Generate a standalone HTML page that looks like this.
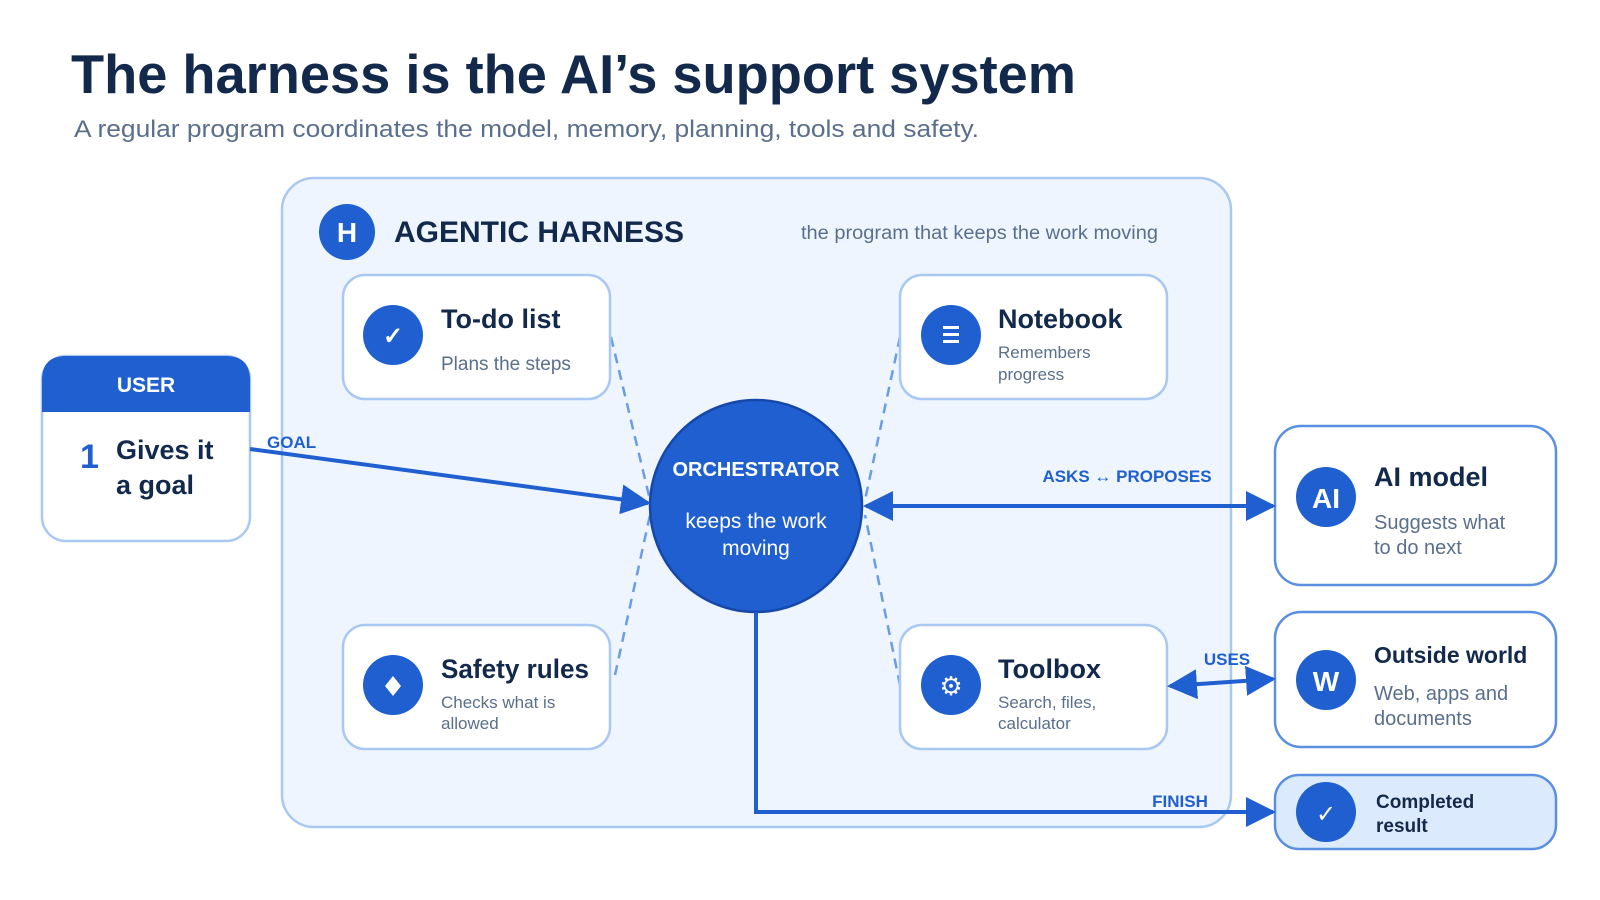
<!DOCTYPE html>
<html><head><meta charset="utf-8"><style>
html,body{margin:0;padding:0;background:#fff;}
svg{display:block;font-family:"Liberation Sans",Arial,sans-serif;}
</style></head><body>
<svg width="1600" height="900" viewBox="0 0 1600 900" xmlns="http://www.w3.org/2000/svg">
<defs>
<marker id="ah" viewBox="0 0 10 10" refX="9" refY="5" markerWidth="7.5" markerHeight="7.5" orient="auto-start-reverse" markerUnits="strokeWidth">
<path d="M0,0 L10,5 L0,10 z" fill="#1f5fd0"/></marker>
</defs>
<text x="71" y="93" font-size="55" font-weight="bold" fill="#13294b" textLength="1005" lengthAdjust="spacingAndGlyphs">The harness is the AI’s support system</text>
<text x="74" y="137" font-size="24" fill="#5a6f8c" textLength="905" lengthAdjust="spacingAndGlyphs">A regular program coordinates the model, memory, planning, tools and safety.</text>

<rect x="282" y="178" width="949" height="649" rx="32" fill="#eef5ff" stroke="#a9c8f2" stroke-width="2.5"/>
<circle cx="347" cy="232" r="28" fill="#1f5fd0"/>
<text x="347" y="242" font-size="28" font-weight="bold" fill="#fff" text-anchor="middle">H</text>
<text x="394" y="242" font-size="30" font-weight="bold" fill="#13294b" textLength="290" lengthAdjust="spacingAndGlyphs">AGENTIC HARNESS</text>
<text x="1158" y="239" font-size="19" fill="#5a6f8c" text-anchor="end" textLength="357" lengthAdjust="spacingAndGlyphs">the program that keeps the work moving</text>

<g stroke="#6a9de6" stroke-width="2.5" stroke-dasharray="10,7" fill="none">
<line x1="611" y1="337" x2="650" y2="500"/>
<line x1="615" y1="675" x2="650" y2="515"/>
<line x1="900" y1="337" x2="865" y2="500"/>
<line x1="900" y1="685" x2="865" y2="515"/>
</g>

<g stroke="#a9c8f2" stroke-width="2.5" fill="#fff">
<rect x="343" y="275" width="267" height="124" rx="22"/>
<rect x="900" y="275" width="267" height="124" rx="22"/>
<rect x="343" y="625" width="267" height="124" rx="22"/>
<rect x="900" y="625" width="267" height="124" rx="22"/>
</g>
<g fill="#1f5fd0">
<circle cx="393" cy="335" r="30"/><circle cx="951" cy="335" r="30"/>
<circle cx="393" cy="685" r="30"/><circle cx="951" cy="685" r="30"/>
</g>
<g fill="#fff" font-weight="bold" text-anchor="middle">
<text x="393" y="344" font-size="24">✓</text>
<rect x="943" y="326" width="16" height="3"/><rect x="943" y="333" width="16" height="3"/><rect x="943" y="340" width="16" height="3"/>
<path d="M393,676 L401,686 L393,696 L385,686 z"/>
<text x="951" y="695" font-size="26" font-family="DejaVu Sans">⚙</text>
</g>
<g fill="#13294b" font-weight="bold" font-size="27">
<text x="441" y="328">To-do list</text>
<text x="998" y="328">Notebook</text>
<text x="441" y="678" textLength="148" lengthAdjust="spacingAndGlyphs">Safety rules</text>
<text x="998" y="678">Toolbox</text>
</g>
<g fill="#5a6f8c">
<text x="441" y="370" font-size="19">Plans the steps</text>
<text x="998" y="358" font-size="17">Remembers</text><text x="998" y="380" font-size="17">progress</text>
<text x="441" y="708" font-size="17">Checks what is</text><text x="441" y="729" font-size="17">allowed</text>
<text x="998" y="708" font-size="17">Search, files,</text><text x="998" y="729" font-size="17">calculator</text>
</g>

<circle cx="756" cy="506" r="106" fill="#1f5fd0" stroke="#1548a8" stroke-width="2.5"/>
<text x="756" y="476" font-size="20" font-weight="bold" fill="#fff" text-anchor="middle">ORCHESTRATOR</text>
<text x="756" y="528" font-size="21" fill="#fff" text-anchor="middle">keeps the work</text>
<text x="756" y="555" font-size="21" fill="#fff" text-anchor="middle">moving</text>

<!-- user -->
<rect x="42" y="356" width="208" height="185" rx="24" fill="#fff" stroke="#a9c8f2" stroke-width="2.5"/>
<path d="M42,412 L42,380 Q42,356 66,356 L226,356 Q250,356 250,380 L250,412 Z" fill="#1f5fd0"/>
<text x="146" y="392" font-size="21" font-weight="bold" fill="#fff" text-anchor="middle">USER</text>
<text x="80" y="468" font-size="34" font-weight="bold" fill="#1f5fd0">1</text>
<text x="116" y="459" font-size="27" font-weight="bold" fill="#13294b">Gives it</text>
<text x="116" y="494" font-size="27" font-weight="bold" fill="#13294b">a goal</text>

<!-- right boxes -->
<rect x="1275" y="426" width="281" height="159" rx="26" fill="#fff" stroke="#5b8fe0" stroke-width="2.5"/>
<circle cx="1326" cy="497" r="30" fill="#1f5fd0"/>
<text x="1326" y="508" font-size="28" font-weight="bold" fill="#fff" text-anchor="middle">AI</text>
<text x="1374" y="486" font-size="27" font-weight="bold" fill="#13294b">AI model</text>
<text x="1374" y="529" font-size="20" fill="#5a6f8c">Suggests what</text>
<text x="1374" y="554" font-size="20" fill="#5a6f8c">to do next</text>

<rect x="1275" y="612" width="281" height="135" rx="26" fill="#fff" stroke="#5b8fe0" stroke-width="2.5"/>
<circle cx="1326" cy="680" r="30" fill="#1f5fd0"/>
<text x="1326" y="691" font-size="28" font-weight="bold" fill="#fff" text-anchor="middle">W</text>
<text x="1374" y="663" font-size="23" font-weight="bold" fill="#13294b">Outside world</text>
<text x="1374" y="700" font-size="20" fill="#5a6f8c">Web, apps and</text>
<text x="1374" y="725" font-size="20" fill="#5a6f8c">documents</text>

<rect x="1275" y="775" width="281" height="74" rx="24" fill="#dceafd" stroke="#5b8fe0" stroke-width="2.5"/>
<circle cx="1326" cy="812" r="30" fill="#1f5fd0"/>
<text x="1326" y="822" font-size="24" fill="#fff" text-anchor="middle">✓</text>
<text x="1376" y="808" font-size="19" font-weight="bold" fill="#13294b">Completed</text>
<text x="1376" y="832" font-size="19" font-weight="bold" fill="#13294b">result</text>

<!-- connectors -->
<g stroke="#1f5fd0" stroke-width="4" fill="none">
<line x1="250" y1="449" x2="648" y2="503" marker-end="url(#ah)"/>
<line x1="866" y1="506" x2="1273" y2="506" marker-start="url(#ah)" marker-end="url(#ah)"/>
<line x1="1170" y1="686" x2="1273" y2="679" marker-start="url(#ah)" marker-end="url(#ah)"/>
<polyline points="756,612 756,812 1273,812" marker-end="url(#ah)"/>
</g>
<g fill="#1f5fd0" font-weight="bold" font-size="17">
<text x="267" y="448">GOAL</text>
<text x="1127" y="482" text-anchor="middle">ASKS  ↔  PROPOSES</text>
<text x="1227" y="665" text-anchor="middle">USES</text>
<text x="1180" y="807" text-anchor="middle">FINISH</text>
</g>
</svg>
</body></html>
